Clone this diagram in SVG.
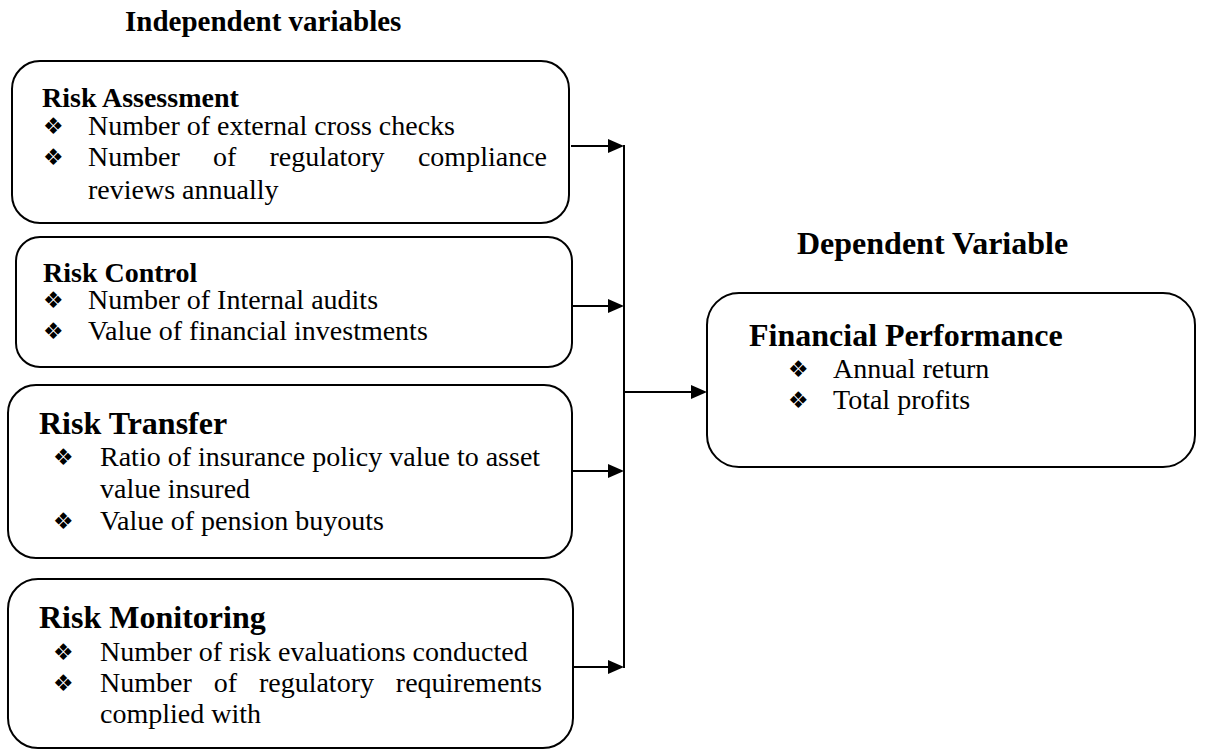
<svg xmlns="http://www.w3.org/2000/svg" width="1209" height="750" viewBox="0 0 1209 750">
  <style>
    .box { fill: #ffffff; stroke: #000000; stroke-width: 2; }
    .title { font-family: "Liberation Serif", "Times New Roman", serif; font-weight: bold; font-size: 29px; fill: #000; }
    .head { font-family: "Liberation Serif", "Times New Roman", serif; font-weight: bold; font-size: 28px; fill: #000; }
    .head-l { font-family: "Liberation Serif", "Times New Roman", serif; font-weight: bold; font-size: 32px; fill: #000; }
    .body { font-family: "Liberation Serif", "Times New Roman", serif; font-size: 28px; fill: #000; }
    .bul { font-family: "DejaVu Sans", sans-serif; font-size: 23px; fill: #000; }
    .wire { stroke: #000; stroke-width: 2; fill: none; }
  </style>
  <defs>
    <marker id="arrow" viewBox="0 0 16 14" markerWidth="16" markerHeight="14" refX="8" refY="7" markerUnits="userSpaceOnUse" orient="auto">
      <path d="M0,0 L16,7 L0,14 z" fill="#000"/>
    </marker>
  </defs>

  <rect width="1209" height="750" fill="#ffffff"/>

  <!-- section headings -->
  <text class="title" x="125" y="31">Independent variables</text>
  <text class="head-l" x="797" y="254">Dependent Variable</text>

  <!-- Risk Assessment -->
  <g id="risk-assessment">
    <rect class="box" x="12" y="61" width="557" height="162" rx="28"/>
    <text class="head" x="42" y="107">Risk Assessment</text>
    <text class="bul" x="43" y="134">❖</text>
    <text class="body" x="88" y="135">Number of external cross checks</text>
    <text class="bul" x="43" y="165">❖</text>
    <text class="body" x="88" y="166">Number</text>
    <text class="body" x="213" y="166">of</text>
    <text class="body" x="269.5" y="166">regulatory</text>
    <text class="body" x="547" y="166" text-anchor="end">compliance</text>
    <text class="body" x="88" y="199">reviews annually</text>
  </g>

  <!-- Risk Control -->
  <g id="risk-control">
    <rect class="box" x="16" y="237" width="556" height="130" rx="24"/>
    <text class="head" x="43" y="282">Risk Control</text>
    <text class="bul" x="43" y="308">❖</text>
    <text class="body" x="88" y="309">Number of Internal audits</text>
    <text class="bul" x="43" y="339">❖</text>
    <text class="body" x="88" y="340">Value of financial investments</text>
  </g>

  <!-- Risk Transfer -->
  <g id="risk-transfer">
    <rect class="box" x="8" y="385" width="564" height="173" rx="28"/>
    <text class="head-l" x="39" y="434">Risk Transfer</text>
    <text class="bul" x="53" y="465">❖</text>
    <text class="body" x="100" y="466">Ratio of insurance policy value to asset</text>
    <text class="body" x="100" y="498">value insured</text>
    <text class="bul" x="53" y="529">❖</text>
    <text class="body" x="100" y="530">Value of pension buyouts</text>
  </g>

  <!-- Risk Monitoring -->
  <g id="risk-monitoring">
    <rect class="box" x="8" y="579" width="565" height="169" rx="30"/>
    <text class="head-l" x="39" y="628">Risk Monitoring</text>
    <text class="bul" x="53" y="660">❖</text>
    <text class="body" x="100" y="661">Number of risk evaluations conducted</text>
    <text class="bul" x="53" y="691">❖</text>
    <text class="body" x="100" y="692">Number</text>
    <text class="body" x="213.7" y="692">of</text>
    <text class="body" x="258.9" y="692">regulatory</text>
    <text class="body" x="542" y="692" text-anchor="end">requirements</text>
    <text class="body" x="100" y="723">complied with</text>
  </g>

  <!-- Financial Performance -->
  <g id="financial-performance">
    <rect class="box" x="707" y="293" width="488" height="174" rx="32"/>
    <text class="head-l" x="749" y="346">Financial Performance</text>
    <text class="bul" x="788" y="377">❖</text>
    <text class="body" x="833" y="378">Annual return</text>
    <text class="bul" x="788" y="408">❖</text>
    <text class="body" x="833" y="409">Total profits</text>
  </g>

  <!-- connectors -->
  <g id="connectors">
    <line class="wire" x1="571" y1="146" x2="616" y2="146" marker-end="url(#arrow)"/>
    <line class="wire" x1="573" y1="306" x2="616" y2="306" marker-end="url(#arrow)"/>
    <line class="wire" x1="573" y1="471" x2="616" y2="471" marker-end="url(#arrow)"/>
    <line class="wire" x1="574" y1="667" x2="616" y2="667" marker-end="url(#arrow)"/>
    <line class="wire" x1="624" y1="145" x2="624" y2="668"/>
    <line class="wire" x1="624" y1="392" x2="699" y2="392" marker-end="url(#arrow)"/>
  </g>
</svg>
